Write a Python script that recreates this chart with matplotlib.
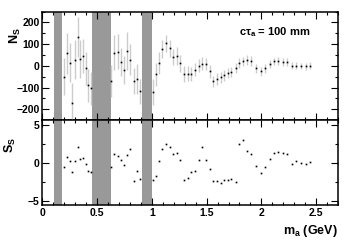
import matplotlib
matplotlib.use('Agg')
import matplotlib.pyplot as plt
from matplotlib.ticker import MultipleLocator, FixedLocator, FixedFormatter

plt.rcParams['font.family'] = 'Liberation Sans'
plt.rcParams['font.weight'] = 'bold'
plt.rcParams['mathtext.fontset'] = 'custom'
plt.rcParams['mathtext.rm'] = 'Liberation Sans:bold'
plt.rcParams['mathtext.it'] = 'Liberation Sans:bold'
plt.rcParams['mathtext.bf'] = 'Liberation Sans:bold'

# candidate mass points (GeV)
mass = [0.200, 0.2245, 0.249, 0.273, 0.297, 0.322, 0.345, 0.370, 0.395, 0.418, 0.443,
        0.627, 0.658, 0.688, 0.718, 0.745, 0.776, 0.804, 0.834, 0.861, 0.891,
        1.009, 1.036, 1.067, 1.097, 1.131, 1.164, 1.195, 1.227, 1.261, 1.295, 1.327,
        1.361, 1.395, 1.427, 1.461, 1.493, 1.527, 1.561, 1.594, 1.627, 1.661, 1.695,
        1.727, 1.764, 1.800, 1.836, 1.873, 1.909, 1.952, 1.995, 2.034, 2.076, 2.115,
        2.155, 2.195, 2.236, 2.279, 2.318, 2.361, 2.404, 2.445]

# fitted signal yield
n_sig = [-50, 57, 15, -170, 29, 135, 32, 46, -11, -90, -104,
         -69, 61, 66, 18, -21, 70, 29, -69, -60, -117,
         -122, -40, 14, 78, 103, 81, 41, 47, 11, -38, -37,
         -37, -18, 1, 9, 8, -26, -72, -61, -52, -43, -34,
         -28, -11, 11, 20, 26, 23, -12, -26, -12, 9, 20,
         22, 18, 17, 0, 1, -1, -3, 1]

n_err = [84, 96, 88, 92, 92, 92, 88, 80, 77, 77, 77,
         75, 80, 80, 65, 65, 88, 72, 60, 68, 57,
         60, 54, 50, 42, 41, 38, 38, 42, 40, 35, 35,
         31, 31, 30, 30, 29, 28, 26, 26, 25, 25, 24,
         24, 24, 23, 23, 22, 22, 21, 20, 20, 19, 18,
         18, 17, 17, 16, 16, 15, 15, 15]

# local significance
s_sig = [-0.58, 0.8, 0.24, -1.14, 0.28, 2.1, 0.46, 0.64, -0.1, -1.1, -1.18,
         -0.5, 1.23, 0.94, 0.33, -0.27, 1.1, 1.84, -2.3, -1.05, -2.05,
         -2.2, -1.66, 0.28, 1.88, 2.53, 2.14, 1.23, 1.35, 0.37, -2.15, -1.9,
         -1.16, -1.02, 0.35, 2.12, 0.33, -0.82, -2.4, -2.4, -2.66, -2.27, -2.27,
         -2.05, -2.53, 2.5, 3.05, 1.5, 1.2, -0.4, -1.27, -0.5, 0.46, 1.36,
         1.45, 1.28, 1.2, -0.14, 0.25, 0.03, -0.1, 0.16]

# excluded mass windows
veto_lo = [0.104, 0.455, 0.910]
veto_hi = [0.182, 0.625, 1.005]

fig = plt.figure(figsize=(3.57, 2.42), dpi=100)
ax1 = fig.add_axes([0.1185, 0.504, 0.8285, 0.448])
ax2 = fig.add_axes([0.1185, 0.152, 0.8285, 0.352])

for ax in (ax1, ax2):
    for lo, hi in zip(veto_lo, veto_hi):
        ax.axvspan(lo, hi, color='#999999', lw=0, zorder=1)
    ax.set_xlim(0, 2.7)
    ax.xaxis.set_major_locator(MultipleLocator(0.5))
    ax.xaxis.set_minor_locator(MultipleLocator(0.1))
    ax.tick_params(which='both', direction='in', top=True, right=True,
                   labelsize=7.5, width=0.8, pad=2)
    ax.tick_params(which='major', length=5)
    ax.tick_params(which='minor', length=2.5)
    for sp in ax.spines.values():
        sp.set_linewidth(1.1)

ax1.errorbar(mass, n_sig, yerr=n_err, fmt='s', ms=1.2, mew=0, color='black',
             ecolor='#cccccc', elinewidth=1.0, capsize=0, zorder=3)
ax1.set_ylim(-250, 250)
ax1.yaxis.set_major_locator(MultipleLocator(100))
ax1.yaxis.set_minor_locator(MultipleLocator(50))
ax1.tick_params(labelbottom=False)

ax2.plot(mass, s_sig, 's', ms=1.2, mew=0, color='black', zorder=3)
ax2.set_ylim(-5.5, 5.6)
ax2.yaxis.set_major_locator(FixedLocator([-5, 0, 5]))
ax2.yaxis.set_minor_locator(MultipleLocator(2.5))
ax2.xaxis.set_major_locator(FixedLocator([0, 0.5, 1, 1.5, 2, 2.5]))
ax2.xaxis.set_major_formatter(FixedFormatter(['0', '0.5', '1', '1.5', '2', '2.5']))

fig.text(0.042, 0.851, r'N$_\mathrm{S}$', rotation=90, fontsize=9,
         ha='center', va='center')
fig.text(0.03, 0.40, r'S$_\mathrm{S}$', rotation=90, fontsize=9,
         ha='center', va='center')
fig.text(0.947, 0.045, r'm$_\mathrm{a}$ (GeV)', fontsize=9,
         ha='right', va='center')
fig.text(0.868, 0.868, 'cτ$_\\mathrm{a}$ = 100 mm', fontsize=8,
         ha='right', va='center')

fig.savefig('out.png', dpi=100)
